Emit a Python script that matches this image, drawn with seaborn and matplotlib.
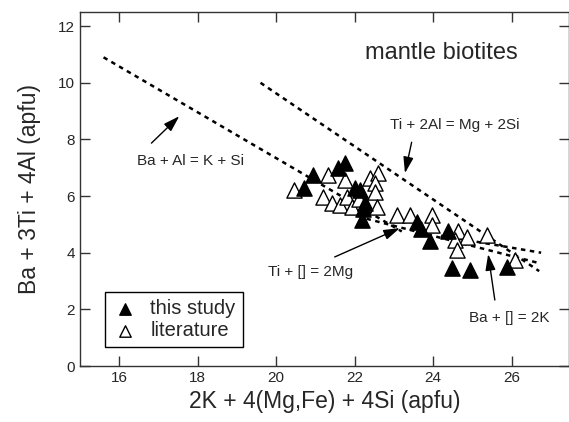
import matplotlib
matplotlib.use("Agg")
import matplotlib.pyplot as plt
import seaborn as sns
import pandas as pd

# data (x = 2K + 4(Mg,Fe) + 4Si, y = Ba + 3Ti + 4Al)
study_x = [20.72, 20.93, 21.57, 21.74, 22.00, 22.13, 22.25, 22.20, 22.18,
           23.58, 23.70, 23.91, 24.37, 24.48, 24.93, 25.88]
study_y = [6.28, 6.74, 6.99, 7.17, 6.28, 6.21, 5.75, 5.55, 5.15,
           5.08, 4.85, 4.40, 4.78, 3.46, 3.39, 3.50]

lit_x = [20.45, 21.31, 21.74, 22.38, 22.59, 22.51, 22.51, 21.18, 21.41, 21.62,
         21.80, 21.92, 22.56, 22.10, 23.07, 23.40, 23.97, 23.97, 24.63, 24.86,
         24.55, 24.60, 25.37, 26.08]
lit_y = [6.21, 6.74, 6.57, 6.64, 6.81, 6.46, 6.14, 5.97, 5.75, 5.68,
         5.97, 5.61, 5.61, 5.90, 5.33, 5.33, 5.33, 4.98, 4.75, 4.55,
         4.45, 4.10, 4.62, 3.74]

# substitution vectors (dashed lines)
ba_al_x, ba_al_y = [15.6, 23.2], [10.9, 4.75]
ti_al_x, ti_al_y = [19.6, 26.7], [10.0, 3.35]
ti_vac_x, ti_vac_y = [22.3, 26.65], [5.2, 3.65]
ba_vac_x, ba_vac_y = [24.2, 26.75], [4.6, 4.0]

xticks = [16, 18, 20, 22, 24, 26]
yticks = [0, 2, 4, 6, 8, 10, 12]

sns.set_style("ticks")
plt.rcParams["font.family"] = ["Liberation Sans", "DejaVu Sans"]

fig = plt.figure(figsize=(5.69, 4.22), dpi=100)
ax = fig.add_axes([80 / 569, 56 / 422, 489 / 569, 354 / 422])

dash = (0, (1.8, 1.8))
for lx, ly in [(ba_al_x, ba_al_y), (ti_al_x, ti_al_y),
               (ti_vac_x, ti_vac_y), (ba_vac_x, ba_vac_y)]:
    ax.plot(lx, ly, color="black", lw=1.8, linestyle=dash, zorder=1)

lit = pd.DataFrame({"x": lit_x, "y": lit_y})
study = pd.DataFrame({"x": study_x, "y": study_y})
sns.scatterplot(data=lit, x="x", y="y", marker="^", s=120, color="white",
                edgecolor="black", linewidth=1, ax=ax, label="literature", zorder=2)
sns.scatterplot(data=study, x="x", y="y", marker="^", s=120, color="black",
                edgecolor="black", linewidth=1, ax=ax, label="this study", zorder=3)

ax.set_xlim(15, 27.46)
ax.set_ylim(0, 12.5)
ax.set_xticks(xticks)
ax.set_yticks(yticks)
ax.tick_params(direction="in", length=7, labelsize=11, top=True, right=True,
               width=1, color="#333333")
for sp in ax.spines.values():
    sp.set_linewidth(1)
    sp.set_color("#333333")
ax.set_xlabel("2K + 4(Mg,Fe) + 4Si (apfu)", fontsize=16.5, labelpad=4)
ax.set_ylabel("Ba + 3Ti + 4Al (apfu)", fontsize=16.5, labelpad=12)

ax.text(24.2, 11.05, "mantle biotites", fontsize=17, ha="center", va="center")

arrow = dict(arrowstyle="-|>,head_length=0.7,head_width=0.22", color="black",
             lw=1, mutation_scale=14, shrinkA=0, shrinkB=0)
ax.annotate("", xy=(17.53, 8.82), xytext=(16.82, 7.87), arrowprops=arrow)
ax.text(17.81, 7.23, "Ba + Al = K + Si", fontsize=11, ha="center", va="center")
ax.annotate("", xy=(23.28, 6.81), xytext=(23.45, 7.9), arrowprops=arrow)
ax.text(24.55, 8.5, "Ti + 2Al = Mg + 2Si", fontsize=11, ha="center", va="center")
ax.annotate("", xy=(23.15, 4.87), xytext=(21.49, 3.85), arrowprops=arrow)
ax.text(20.88, 3.32, "Ti + [] = 2Mg", fontsize=11, ha="center", va="center")
ax.annotate("", xy=(25.4, 3.95), xytext=(25.57, 2.33), arrowprops=arrow)
ax.text(25.93, 1.69, "Ba + [] = 2K", fontsize=11, ha="center", va="center")

handles, labels = ax.get_legend_handles_labels()
leg = ax.legend(handles[::-1], labels[::-1], loc="lower left",
                bbox_to_anchor=(0.051, 0.054), fontsize=14.5, markerscale=0.75,
                frameon=True, fancybox=False, framealpha=1, edgecolor="black",
                handletextpad=0.6, borderpad=0.35, labelspacing=0.15,
                handlelength=1.3, borderaxespad=0)
leg.get_frame().set_linewidth(1)

fig.savefig("out.png", dpi=100)
